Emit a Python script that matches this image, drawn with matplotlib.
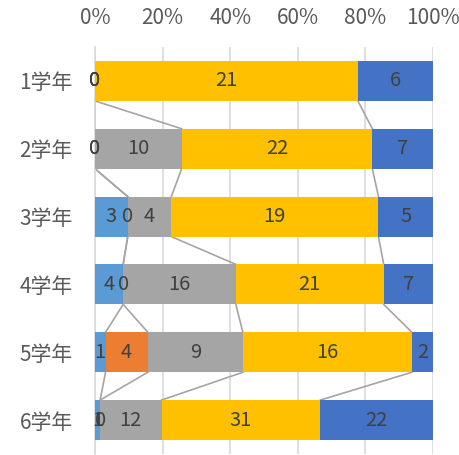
import matplotlib
matplotlib.use("Agg")
import matplotlib.pyplot as plt
import numpy as np

plt.rcParams["font.family"] = ["Noto Sans CJK JP", "DejaVu Sans"]

# grades, top to bottom
grades = ["1学年", "2学年", "3学年", "4学年", "5学年", "6学年"]

# counts per series (same order as grades)
s_lightblue = [0, 0, 3, 4, 1, 1]
s_orange = [0, 0, 0, 0, 4, 0]
s_gray = [0, 10, 4, 16, 9, 12]
s_gold = [21, 22, 19, 21, 16, 31]
s_blue = [6, 7, 5, 7, 2, 22]

series = [s_lightblue, s_orange, s_gray, s_gold, s_blue]
colors = ["#5B9BD5", "#ED7D31", "#A5A5A5", "#FFC000", "#4472C4"]
ticks = [0, 20, 40, 60, 80, 100]
tick_labels = ["0%", "20%", "40%", "60%", "80%", "100%"]


def main():
    fig = plt.figure(figsize=(4.6, 4.55), dpi=100)
    ax = fig.add_axes([95 / 460, 1 - 454 / 455, (433 - 95) / 460, (454 - 47) / 455])

    vals = np.array(series, dtype=float)
    totals = vals.sum(axis=0)
    pct = vals / totals * 100
    cum = np.cumsum(pct, axis=0)
    left = cum - pct

    y = np.arange(len(grades))
    h = 0.59

    for i, col in enumerate(colors):
        ax.barh(y, pct[i], left=left[i], height=h, color=col, zorder=3)
        for j in range(len(grades)):
            ax.text(left[i][j] + pct[i][j] / 2, y[j], str(int(vals[i][j])),
                    ha="center", va="center", fontsize=14.5, color="#404040", zorder=5)

    # series lines between neighbouring bars
    for i in range(len(colors) - 1):
        for j in range(len(grades) - 1):
            ax.plot([cum[i][j], cum[i][j + 1]], [y[j] + h / 2, y[j + 1] - h / 2],
                    color="#A5A5A5", lw=1.2, zorder=2)

    ax.set_xlim(0, 100)
    ax.set_ylim(len(grades) - 0.5, -0.5)
    ax.set_yticks(y)
    ax.set_yticklabels(grades)
    ax.set_xticks(ticks)
    ax.set_xticklabels(tick_labels)
    ax.xaxis.tick_top()
    ax.tick_params(axis="x", length=0, pad=13, labelsize=15, labelcolor="#595959")
    ax.tick_params(axis="y", length=0, pad=16, labelsize=15, labelcolor="#595959")
    ax.grid(axis="x", color="#D9D9D9", lw=1.2, zorder=0)
    for s in ["top", "right", "bottom"]:
        ax.spines[s].set_visible(False)
    ax.spines["left"].set_color("#D9D9D9")
    ax.spines["left"].set_linewidth(1.2)

    fig.savefig("out.png", dpi=100)


if __name__ == "__main__":
    main()
